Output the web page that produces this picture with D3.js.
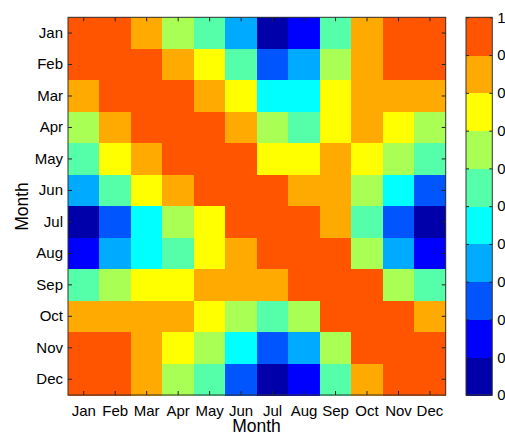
<!DOCTYPE html>
<html><head><meta charset="utf-8">
<script src="https://cdn.jsdelivr.net/npm/d3@7"></script>
<style>body{margin:0;background:#fff}svg{display:block}text{font-family:"Liberation Sans",Arial,sans-serif;fill:#000}</style>
</head><body><svg id="c" width="505" height="432"></svg>
<script>
const months = ["Jan","Feb","Mar","Apr","May","Jun","Jul","Aug","Sep","Oct","Nov","Dec"];
const values = [
 [0.95,0.95,0.85,0.65,0.55,0.35,0.05,0.15,0.55,0.85,0.95,0.95],
 [0.95,0.95,0.95,0.85,0.75,0.55,0.25,0.35,0.65,0.85,0.95,0.95],
 [0.85,0.95,0.95,0.95,0.85,0.75,0.45,0.45,0.75,0.85,0.85,0.85],
 [0.65,0.85,0.95,0.95,0.95,0.85,0.65,0.55,0.75,0.85,0.75,0.65],
 [0.55,0.75,0.85,0.95,0.95,0.95,0.75,0.75,0.85,0.75,0.65,0.55],
 [0.35,0.55,0.75,0.85,0.95,0.95,0.95,0.85,0.85,0.65,0.45,0.25],
 [0.05,0.25,0.45,0.65,0.75,0.95,0.95,0.95,0.85,0.55,0.25,0.05],
 [0.15,0.35,0.45,0.55,0.75,0.85,0.95,0.95,0.95,0.65,0.35,0.15],
 [0.55,0.65,0.75,0.75,0.85,0.85,0.85,0.95,0.95,0.95,0.65,0.55],
 [0.85,0.85,0.85,0.85,0.75,0.65,0.55,0.65,0.95,0.95,0.95,0.85],
 [0.95,0.95,0.85,0.75,0.65,0.45,0.25,0.35,0.65,0.95,0.95,0.95],
 [0.95,0.95,0.85,0.65,0.55,0.25,0.05,0.15,0.55,0.85,0.95,0.95]
];
const palette = ["#0000aa","#0000ff","#0055ff","#00aaff","#00ffff","#55ffaa","#aaff55","#ffff00","#ffaa00","#ff5500"];
const cbTicks = [0,0.1,0.2,0.3,0.4,0.5,0.6,0.7,0.8,0.9,1];
const cbTickLabels = ["0","0","0","0","0","0","0","0","0","0","1"];
const xTitle = "Month", yTitle = "Month";

const svg = d3.select("#c");
const L=68, T=17.3, W=377.7, H=377.7;
const x = d3.scaleBand().domain(months).range([L,L+W]);
const y = d3.scaleBand().domain(months).range([T,T+H]);
const color = d3.scaleQuantize().domain([0,1]).range(palette);

const cells=[];
values.forEach((row,i)=>row.forEach((v,j)=>cells.push({r:months[i],c:months[j],v})));
svg.append("g").selectAll("rect").data(cells).join("rect")
  .attr("x",d=>x(d.c)).attr("y",d=>y(d.r))
  .attr("width",x.bandwidth()+0.5).attr("height",y.bandwidth()+0.5)
  .attr("fill",d=>color(d.v)).attr("shape-rendering","crispEdges");

const fs="15px", tfs="17.5px";
function ticks(axis, g){ g.call(axis); g.select(".domain").remove(); g.selectAll("line").attr("stroke","#222"); g.selectAll("text").style("font-size",fs).attr("fill","#000"); }
svg.append("g").attr("transform",`translate(0,${T+H})`).call(g=>ticks(d3.axisBottom(x).tickSizeInner(-4).tickSizeOuter(0).tickPadding(10),g));
svg.append("g").attr("transform",`translate(0,${T})`).call(g=>{ticks(d3.axisTop(x).tickSizeInner(-4).tickSizeOuter(0),g); g.selectAll("text").remove();});
svg.append("g").attr("transform",`translate(${L},0)`).call(g=>ticks(d3.axisLeft(y).tickSizeInner(-4).tickSizeOuter(0).tickPadding(5),g));
svg.append("g").attr("transform",`translate(${L+W},0)`).call(g=>{ticks(d3.axisRight(y).tickSizeInner(-4).tickSizeOuter(0),g); g.selectAll("text").remove();});
svg.append("rect").attr("x",L).attr("y",T).attr("width",W).attr("height",H).attr("fill","none").attr("stroke","#333").attr("stroke-width",1);

svg.append("text").attr("x",256.5).attr("y",431.5).attr("text-anchor","middle").style("font-size",tfs).text(xTitle);
svg.append("text").attr("transform",`translate(27.5,206.5) rotate(-90)`).attr("text-anchor","middle").style("font-size",tfs).text(yTitle);

// colorbar
const cbX=466, cbW=26.3;
const cy = d3.scaleLinear().domain([0,1]).range([T+H,T]);
svg.append("g").selectAll("rect").data(palette).join("rect")
  .attr("x",cbX).attr("y",(d,i)=>cy((i+1)/10)).attr("width",cbW).attr("height",(d,i)=>cy(i/10)-cy((i+1)/10)+0.5)
  .attr("fill",d=>d).attr("shape-rendering","crispEdges");
const cbAxis = d3.axisRight(cy).tickValues(cbTicks).tickFormat((d,i)=>cbTickLabels[i]).tickSizeInner(-3).tickSizeOuter(0).tickPadding(5);
svg.append("g").attr("transform",`translate(${cbX+cbW},0)`).call(g=>ticks(cbAxis,g));
svg.append("g").attr("transform",`translate(${cbX},0)`).call(g=>{ticks(d3.axisLeft(cy).tickValues(cbTicks).tickSizeInner(-3).tickSizeOuter(0),g); g.selectAll("text").remove();});
svg.append("rect").attr("x",cbX).attr("y",T).attr("width",cbW).attr("height",H).attr("fill","none").attr("stroke","#333");
</script></body></html>
